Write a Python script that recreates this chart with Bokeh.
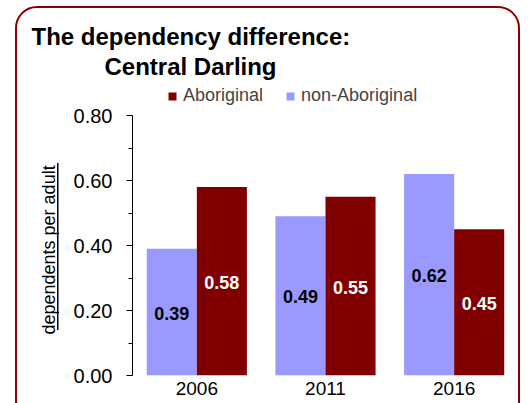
from bokeh.plotting import figure
from bokeh.models import (ColumnDataSource, FactorRange, Range1d, FixedTicker, NumeralTickFormatter,
                          Legend, LegendItem, Title)
from bokeh.transform import dodge
from bokeh.core.properties import value
from bokeh.embed import file_html
from bokeh.resources import INLINE

years = ["2006", "2011", "2016"]
aboriginal = [0.58, 0.55, 0.45]
non_aboriginal = [0.39, 0.49, 0.62]
y_ticks = [0.0, 0.2, 0.4, 0.6, 0.8]
y_minor = [0.1, 0.3, 0.5, 0.7]
title_lines = ["The dependency difference:", "Central Darling"]
series_names = ["Aboriginal", "non-Aboriginal"]
y_label = "dependents per adult"

RED = "#800000"
PURPLE = "#9999FF"
FONT = "Liberation Sans"

# frame: top at page y=80, 0.80 at y=115, 0.00 at y=375
AXIS_MAX = 0.8
Y_TOP = AXIS_MAX * (375 - 80) / (375 - 115)

src = ColumnDataSource(dict(
    year=years,
    abo=aboriginal,
    non=non_aboriginal,
    abo_mid=[v / 2 for v in aboriginal],
    non_mid=[v / 2 for v in non_aboriginal],
    abo_txt=["%.2f" % v for v in aboriginal],
    non_txt=["%.2f" % v for v in non_aboriginal],
))

p = figure(width=501, height=395, x_range=FactorRange(*years, range_padding=0),
           y_range=Range1d(0, Y_TOP), output_backend="svg", toolbar_location=None,
           min_border_left=115, min_border_right=0, min_border_top=72, min_border_bottom=28)
p.margin = (8, 0, 0, 17)
p.styles = {
    "outline": "2.5px solid #8B0000",
    "outline-offset": "0px",
    "border-radius": "20px 20px 0 0",
    "background-color": "white",
    "background-image": "linear-gradient(black, black)",
    "background-repeat": "no-repeat",
    "background-size": "1.5px 167px",
    "background-position": "40px 155px",
}
p.outline_line_color = None
p.grid.grid_line_color = None
p.background_fill_color = "white"
p.border_fill_color = None

W = 0.389
D = 0.1945
r_non = p.vbar(x=dodge("year", -D, range=p.x_range), top="non", width=W, source=src,
               fill_color=PURPLE, line_color=None)
r_abo = p.vbar(x=dodge("year", D, range=p.x_range), top="abo", width=W, source=src,
               fill_color=RED, line_color=None)

p.text(x=dodge("year", -D, range=p.x_range), y="non_mid", text="non_txt", source=src,
       text_align="center", text_baseline="middle", y_offset=1,
       text_font=value(FONT), text_font_style="bold", text_font_size="18px", text_color="black")
p.text(x=dodge("year", D, range=p.x_range), y="abo_mid", text="abo_txt", source=src,
       text_align="center", text_baseline="middle", y_offset=1,
       text_font=value(FONT), text_font_style="bold", text_font_size="18px", text_color="white")

# y axis
ya = p.yaxis[0]
ya.ticker = FixedTicker(ticks=y_ticks, minor_ticks=y_minor)
ya.bounds = (0, AXIS_MAX)
ya.formatter = NumeralTickFormatter(format="0.00")
ya.major_label_text_font = FONT
ya.major_label_text_font_size = "20px"
ya.major_label_text_color = "black"
ya.major_tick_out = 6
ya.major_tick_in = 0
ya.minor_tick_out = 4
ya.minor_tick_in = 0
ya.major_label_standoff = 14
ya.axis_line_color = "black"

# y label as a side title so it can be centred on the 0-0.8 span
p.add_layout(Title(text=y_label, align="left", offset=41, text_font=FONT,
                   text_font_size="18px", text_font_style="normal", text_color="black",
                   standoff=23), "left")

# x axis
xa = p.xaxis[0]
xa.axis_line_color = None
xa.major_tick_line_color = None
xa.minor_tick_line_color = None
xa.major_tick_out = 0
xa.major_label_text_font = FONT
xa.major_label_text_font_size = "19px"
xa.major_label_text_color = "black"
xa.major_label_standoff = 6

# title (two lines, centred on each other)
p.title.text = title_lines[0]
p.title.align = "left"
p.title.offset = -101
p.title.text_font = FONT
p.title.text_font_size = "24px"
p.title.text_font_style = "bold"
p.title.text_color = "black"
p.title.standoff = 0
p.add_layout(Title(text=title_lines[1], align="left", offset=-28, text_font=FONT,
                   text_font_size="24px", text_font_style="bold", text_color="black",
                   standoff=2), "above")

# legend
legend = Legend(items=[LegendItem(label=series_names[0], renderers=[r_abo]),
                       LegendItem(label=series_names[1], renderers=[r_non])],
                orientation="horizontal", location=(35, 269),
                glyph_width=10, glyph_height=10, label_standoff=6, spacing=22,
                padding=0, margin=0, border_line_color=None, background_fill_alpha=0,
                label_text_font=FONT, label_text_font_size="18px",
                label_height=20)
p.add_layout(legend, "center")

open("out.html", "w").write(file_html(p, INLINE))
